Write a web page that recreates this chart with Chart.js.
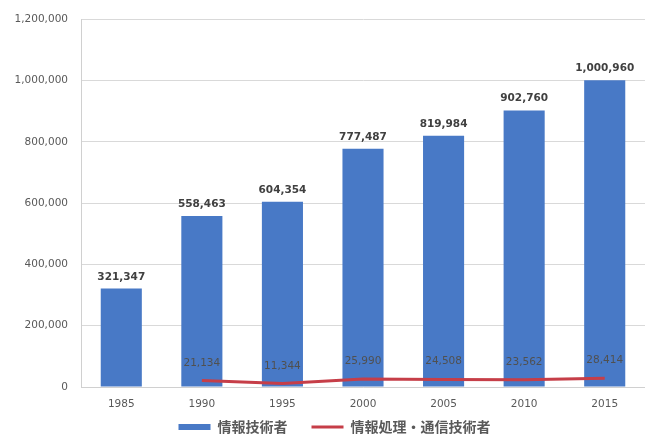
<!DOCTYPE html>
<html>
<head>
<meta charset="utf-8">
<script src="https://cdn.jsdelivr.net/npm/chart.js@4"></script>
<style>
  html, body { margin: 0; padding: 0; background: #fff; }
  #wrap { width: 645px; height: 434px; }
</style>
</head>
<body>
<div id="wrap"><canvas id="chart" width="645" height="434"></canvas></div>
<script>
let years = ["1985", "1990", "1995", "2000", "2005", "2010", "2015"];
let engineers = [321347, 558463, 604354, 777487, 819984, 902760, 1000960];
let telecom = [null, 21134, 11344, 25990, 24508, 23562, 28414];
let y_ticks = [0, 200000, 400000, 600000, 800000, 1000000, 1200000];

let bar_blue = "rgb(72,121,198)";
let line_red = "rgb(198,62,72)";
let label_grey = "#404040";
let axis_grey = "#595959";
let num_font = "'DejaVu Sans', sans-serif";
let jp_font = "'Noto Sans CJK JP', sans-serif";

function fmt(v) {
  return v.toLocaleString('en-US');
}

// draws the value labels at the element positions the library computed
let valueLabels = {
  id: 'valueLabels',
  afterLayout(chart) {
    // legend sits a little right of centre and tucked up under the axis labels
    if (chart.legend) {
      chart.legend.left += 12;
      chart.legend.right += 12;
      chart.legend.top -= 12;
      chart.legend.bottom -= 12;
    }
  },
  afterDatasetsDraw(chart) {
    let ctx = chart.ctx;
    ctx.save();
    ctx.textAlign = 'center';
    ctx.textBaseline = 'alphabetic';
    chart.data.datasets.forEach((ds, i) => {
      let meta = chart.getDatasetMeta(i);
      meta.data.forEach((el, j) => {
        let v = ds.data[j];
        if (v == null) return;
        if (ds.type === 'bar') {
          ctx.font = "bold 10.5px " + num_font;
          ctx.fillStyle = label_grey;
          ctx.fillText(fmt(v), el.x, el.y - 9);
        } else {
          ctx.font = "10.5px " + num_font;
          ctx.fillStyle = "#505050";
          ctx.fillText(fmt(v), el.x, el.y - 15);
        }
      });
    });
    ctx.restore();
  }
};

let ctx = document.getElementById('chart').getContext('2d');
let chart = new Chart(ctx, {
  data: {
    labels: years,
    datasets: [
      {
        type: 'line',
        label: '情報処理・通信技術者',
        data: telecom,
        borderColor: line_red,
        backgroundColor: line_red,
        borderWidth: 3,
        pointRadius: 0,
        pointStyle: 'line',
        tension: 0,
        order: 0
      },
      {
        type: 'bar',
        label: '情報技術者',
        data: engineers,
        backgroundColor: bar_blue,
        borderWidth: 0,
        pointStyle: 'rect',
        categoryPercentage: 1,
        barPercentage: 0.51,
        order: 1
      }
    ]
  },
  options: {
    responsive: false,
    animation: false,
    layout: {
      padding: { left: 0, right: 0, top: 15, bottom: -22 }
    },
    scales: {
      x: {
        afterFit(scale) { scale.height = 21; },
        grid: { display: false, drawTicks: false },
        border: { display: true, color: '#d0d0d0' },
        ticks: {
          color: axis_grey,
          font: { family: num_font, size: 10.5 },
          padding: 11
        }
      },
      y: {
        min: 0,
        max: 1200000,
        afterFit(scale) { scale.width = 81; },
        afterBuildTicks(scale) {
          scale.ticks = y_ticks.map(v => ({ value: v }));
        },
        grid: { color: '#d9d9d9', drawTicks: false },
        border: { display: true, color: '#d0d0d0' },
        ticks: {
          color: axis_grey,
          font: { family: num_font, size: 10.5 },
          padding: 13,
          callback: v => fmt(v)
        }
      }
    },
    plugins: {
      tooltip: { enabled: false },
      legend: {
        position: 'bottom',
        reverse: true,
        labels: {
          usePointStyle: true,
          pointStyleWidth: 32,
          boxHeight: 6,
          padding: 24,
          color: axis_grey,
          font: { family: jp_font, size: 14, weight: 'bold' }
        }
      }
    }
  },
  plugins: [valueLabels]
});
</script>
</body>
</html>
